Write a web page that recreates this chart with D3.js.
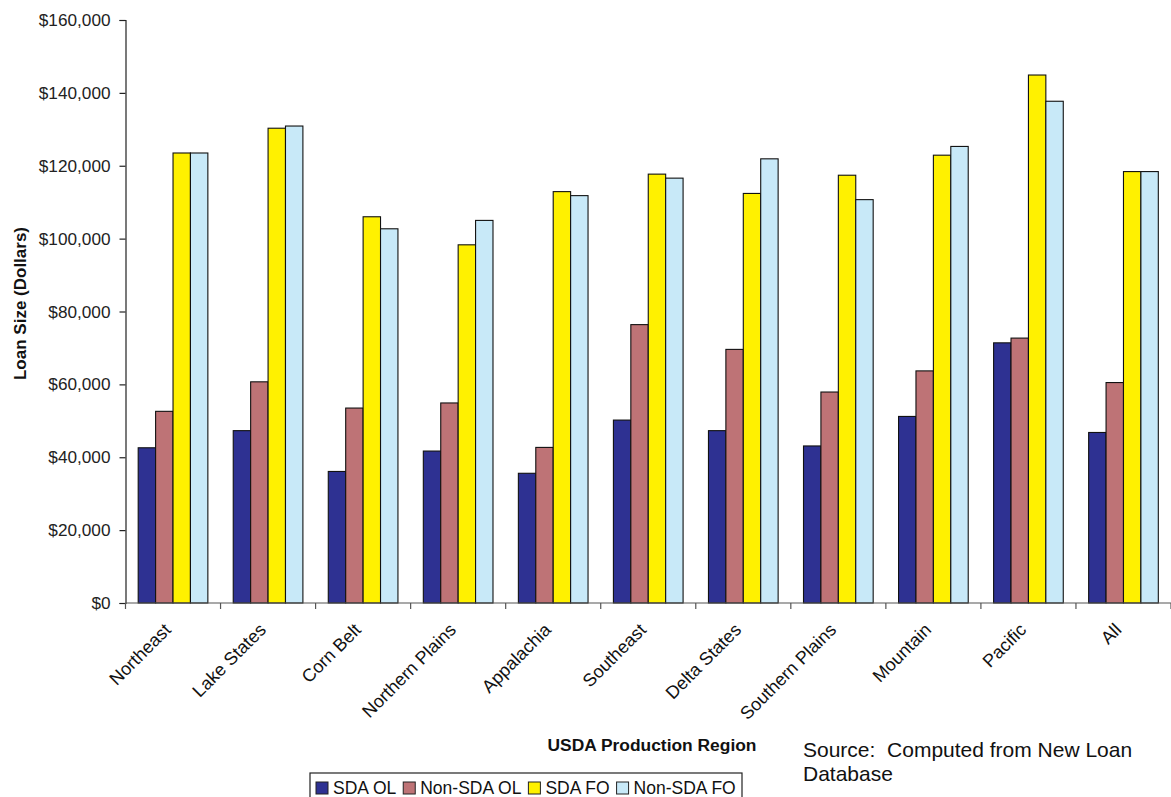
<!DOCTYPE html>
<html>
<head>
<meta charset="utf-8">
<script src="https://cdn.jsdelivr.net/npm/d3@7"></script>
<style>
  html, body { margin: 0; padding: 0; background: #fff; }
  svg { display: block; font-family: "Liberation Sans", Arial, sans-serif; }
</style>
</head>
<body>
<svg id="chart" width="1171" height="797"></svg>
<script>
// Average loan size by USDA production region
const regions = ["Northeast", "Lake States", "Corn Belt", "Northern Plains", "Appalachia",
  "Southeast", "Delta States", "Southern Plains", "Mountain", "Pacific", "All"];
const seriesNames = ["SDA OL", "Non-SDA OL", "SDA FO", "Non-SDA FO"];
const sdaOL    = [42600, 47300, 36100, 41700, 35600, 50200, 47300, 43100, 51200, 71400, 46800];
const nonSdaOL = [52600, 60700, 53500, 54900, 42700, 76400, 69600, 57900, 63700, 72700, 60500];
const sdaFO    = [123500, 130300, 106000, 98300, 112900, 117700, 112400, 117400, 122900, 144900, 118400];
const nonSdaFO = [123500, 130900, 102700, 105000, 111800, 116600, 121900, 110700, 125300, 137700, 118400];
const yTicks = [0, 20000, 40000, 60000, 80000, 100000, 120000, 140000, 160000];
const colors = ["#2E3192", "#BE7376", "#FFF100", "#C8E9F8"];

const seriesValues = [sdaOL, nonSdaOL, sdaFO, nonSdaFO];
const rows = regions.map((r, i) => ({
  region: r,
  values: seriesNames.map((s, k) => ({ key: s, value: seriesValues[k][i], color: colors[k] }))
}));

const svg = d3.select("#chart");
const plotLeft = 125.5, plotRight = 1171, plotTop = 20, plotBottom = 603;

const x0 = d3.scaleBand().domain(regions).range([plotLeft, plotRight])
  .paddingInner(0.267).paddingOuter(0.1335);
const x1 = d3.scaleBand().domain(seriesNames).range([0, x0.bandwidth()]);
const y = d3.scaleLinear().domain([0, 160000]).range([plotBottom, plotTop]);

// Bars
const groups = svg.append("g").selectAll("g").data(rows).join("g")
  .attr("transform", d => `translate(${x0(d.region)},0)`);
groups.selectAll("rect").data(d => d.values).join("rect")
  .attr("x", d => x1(d.key))
  .attr("y", d => y(d.value))
  .attr("width", x1.bandwidth())
  .attr("height", d => y(0) - y(d.value))
  .attr("fill", d => d.color)
  .attr("stroke", "#111")
  .attr("stroke-width", 1.1);

// Y axis
const yAxis = svg.append("g")
  .attr("transform", `translate(${plotLeft},0)`)
  .call(d3.axisLeft(y).tickValues(yTicks).tickSize(6).tickPadding(9)
    .tickFormat(d => "$" + d3.format(",")(d)));
yAxis.select(".domain").attr("stroke", "#222").attr("stroke-width", 1.2);
yAxis.selectAll(".tick line").attr("stroke", "#222").attr("stroke-width", 1.2);
yAxis.selectAll(".tick text").attr("font-size", 17.2).attr("fill", "#222")
  .attr("font-family", "Liberation Sans, Arial, sans-serif");

// X axis line and category separators
const step = x0.step();
svg.append("line")
  .attr("x1", plotLeft).attr("x2", plotRight).attr("y1", plotBottom).attr("y2", plotBottom)
  .attr("stroke", "#555").attr("stroke-width", 1.2);
svg.append("g").selectAll("line").data(d3.range(regions.length + 1)).join("line")
  .attr("x1", i => plotLeft + i * step).attr("x2", i => plotLeft + i * step)
  .attr("y1", plotBottom).attr("y2", plotBottom + 6)
  .attr("stroke", "#555").attr("stroke-width", 1.2);

// Category labels
svg.append("g").selectAll("text").data(regions).join("text")
  .attr("transform", r => `translate(${x0(r) + x0.bandwidth() / 2 - 1},${plotBottom + 28}) rotate(-45)`)
  .attr("text-anchor", "end")
  .attr("font-size", 18)
  .attr("fill", "#111")
  .text(r => r);

// Axis titles
svg.append("text")
  .attr("transform", `translate(26,303.5) rotate(-90)`)
  .attr("text-anchor", "middle")
  .attr("font-size", 17).attr("font-weight", "bold").attr("fill", "#111")
  .text("Loan Size (Dollars)");
svg.append("text")
  .attr("x", 652).attr("y", 751)
  .attr("text-anchor", "middle")
  .attr("font-size", 17.4).attr("font-weight", "bold").attr("fill", "#111")
  .text("USDA Production Region");

// Source note
const src = svg.append("text").attr("x", 803).attr("y", 757)
  .attr("font-size", 21).attr("fill", "#111");
src.append("tspan").attr("x", 803).text("Source:\u00a0 Computed from New Loan");
src.append("tspan").attr("x", 803).attr("dy", 24).text("Database");

// Legend
const legend = svg.append("g");
legend.append("rect")
  .attr("x", 310).attr("y", 773).attr("width", 432).attr("height", 30)
  .attr("fill", "#fff").attr("stroke", "#222").attr("stroke-width", 1.2);
let lx = 316;
seriesNames.forEach((s, k) => {
  legend.append("rect")
    .attr("x", lx).attr("y", 782).attr("width", 12).attr("height", 12)
    .attr("fill", colors[k]).attr("stroke", "#222").attr("stroke-width", 1);
  const t = legend.append("text")
    .attr("x", lx + 17).attr("y", 794)
    .attr("font-size", 17.5).attr("fill", "#111")
    .text(s);
  lx += 17 + t.node().getComputedTextLength() + 7;
});
</script>
</body>
</html>
